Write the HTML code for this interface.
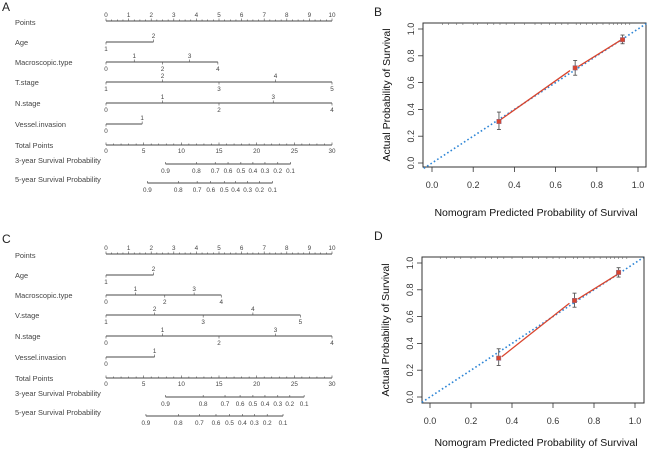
<!DOCTYPE html>
<html><head><meta charset="utf-8">
<style>
html,body{margin:0;padding:0;background:#fff;}
svg{display:block;}
text{font-family:"Liberation Sans",sans-serif;}
</style></head>
<body>
<svg id="fig" width="650" height="450" viewBox="0 0 650 450">
<text x="2" y="11" font-size="12" fill="#222">A</text>
<text x="2" y="243" font-size="12" fill="#222">C</text>
<text x="374" y="16" font-size="12" fill="#222">B</text>
<text x="374" y="240" font-size="12" fill="#222">D</text>
<g id="nomoA"></g>
<g id="nomoC"></g>
<g id="calB"></g>
<g id="calD"></g>
</svg>
<script>
// ---- Nomogram data (points scale 0..10, total points 0..30) ----
var rowNames = ["Age","Macroscopic.type","T.stage","N.stage","Vessel.invasion"];
var rowNamesC = ["Age","Macroscopic.type","V.stage","N.stage","Vessel.invasion"];
var levelsA = [["1","2"],["0","1","2","3","4"],["1","2","3","4","5"],["0","1","2","3","4"],["0","1"]];
var pointsA = [[0,2.1],[0,1.25,2.5,3.7,4.95],[0,2.5,5,7.5,10],[0,2.5,5,7.4,10],[0,1.6]];
var levelsC = [["1","2"],["0","1","2","3","4"],["1","2","3","4","5"],["0","1","2","3","4"],["0","1"]];
var pointsC = [[0,2.1],[0,1.3,2.6,3.9,5.1],[0,2.15,4.3,6.5,8.6],[0,2.5,5,7.5,10],[0,2.15]];
var probLabels = ["0.9","0.8","0.7","0.6","0.5","0.4","0.3","0.2","0.1"];
var surv3A = [7.9,12.0,14.5,16.2,17.9,19.5,21.1,22.8,24.5];
var surv5A = [5.5,9.6,12.1,13.9,15.7,17.2,18.8,20.4,22.1];
var surv3C = [7.9,12.9,15.8,17.8,19.5,21.1,22.8,24.4,26.3];
var surv5C = [5.3,9.6,12.4,14.6,16.4,18.1,19.7,21.4,23.5];
var pointTicks = [0,1,2,3,4,5,6,7,8,9,10];
var totalTicks = [0,5,10,15,20,25,30];
// ---- Calibration data ----
var calPredB = [0.325,0.695,0.925];
var calObsB = [0.31,0.71,0.92];
var calLoB = [0.25,0.655,0.89];
var calHiB = [0.38,0.765,0.955];
var calLineB = [[0.33,0.32,0.67,0.69],[0.71,0.72,0.92,0.92]];
var calPredD = [0.335,0.705,0.92];
var calObsD = [0.29,0.72,0.93];
var calLoD = [0.235,0.67,0.895];
var calHiD = [0.36,0.775,0.965];
var calLineD = [[0.35,0.3,0.68,0.7],[0.72,0.73,0.92,0.92]];
var calTicks = [0,0.2,0.4,0.6,0.8,1.0];
var rugB = [0.05,0.08,0.12,0.15,0.2,0.22,0.27,0.3,0.33,0.36,0.4,0.45,0.5,0.53,0.57,0.6,0.63,0.66,0.7,0.72,0.75,0.78,0.8,0.83,0.86,0.88,0.9,0.92,0.94,0.96];

var NS="http://www.w3.org/2000/svg";
function mk(parent,tag,attrs){var e=document.createElementNS(NS,tag);for(var k in attrs)e.setAttribute(k,attrs[k]);parent.appendChild(e);return e;}
function txt(parent,x,y,s,size,anchor,fill){var t=mk(parent,"text",{x:x,y:y,"font-size":size,"text-anchor":anchor||"start",fill:fill||"#444"});t.textContent=s;return t;}

function nomogram(gid,oy,names,levels,pts,s3,s5){
  var g=document.getElementById(gid);
  var x0=106,x1=332;
  function px(p){return x0+(x1-x0)*p/10;}
  function tx(t){return x0+(x1-x0)*t/30;}
  var col="#4a4a4a";
  var LS=7.4, TS=6.3;
  var y=oy+21;
  var lbl=txt(g,15,y+4,"Points",LS);
  
  
  var ax=mk(g,"line",{x1:x0,y1:y,x2:x1,y2:y,stroke:col,"stroke-width":0.9});
  
  
  for(var m=0;m<=40;m++){mk(g,"line",{x1:px(m/4),y1:y,x2:px(m/4),y2:y-(m%4==0?2.5:1.5),stroke:col,"stroke-width":0.6});}
  pointTicks.forEach(function(p){txt(g,px(p),y-4,String(p),TS,"middle");});
  var rowY=[42,62,82,103,124];
  names.forEach(function(nm,i){
    var ry=oy+rowY[i];
    var l=txt(g,15,ry+3,nm,LS);
    
    
    var pp=pts[i];
    var ln=mk(g,"line",{x1:px(pp[0]),y1:ry,x2:px(pp[pp.length-1]),y2:ry,stroke:col,"stroke-width":1});
    
    
    pp.forEach(function(p,j){
      var up=(j%2==1);
      mk(g,"line",{x1:px(p),y1:ry,x2:px(p),y2:up?ry-2.5:ry+2.5,stroke:col,"stroke-width":0.6});
      txt(g,px(p),up?ry-4:ry+9,levels[i][j],TS,"middle");
    });
  });
  var ty=oy+145;
  var tl=txt(g,15,ty+3,"Total Points",LS);
  
  
  var ta=mk(g,"line",{x1:x0,y1:ty,x2:x1,y2:ty,stroke:col,"stroke-width":0.9});
  
  
  for(var k=0;k<=30;k++){mk(g,"line",{x1:tx(k),y1:ty,x2:tx(k),y2:ty-(k%5==0?2.5:1.5),stroke:col,"stroke-width":0.6});}
  totalTicks.forEach(function(t){txt(g,tx(t),ty+8,String(t),TS,"middle");});
  [[s3,164,"3-year Survival Probability"],[s5,183,"5-year Survival Probability"]].forEach(function(r,i){
    var sy=oy+r[1];
    var sl=txt(g,15,sy-1,r[2],LS);
    
    
    var arr=r[0];
    var sa=mk(g,"line",{x1:tx(arr[0]),y1:sy,x2:tx(arr[arr.length-1]),y2:sy,stroke:col,"stroke-width":0.9});
    
    
    arr.forEach(function(t,j){
      mk(g,"line",{x1:tx(t),y1:sy,x2:tx(t),y2:sy-2,stroke:col,"stroke-width":0.6});
      txt(g,tx(t),sy+9,probLabels[j],TS,"middle");
    });
  });
}

function calib(gid,box,org,pred,obs,lo,hi,segs,titleY){
  var g=document.getElementById(gid);
  function X(v){return org[0]+(org[1]-org[0])*v;}
  function Y(v){return org[2]+(org[3]-org[2])*v;}
  var fr=mk(g,"rect",{x:box[0],y:box[1],width:box[2]-box[0],height:box[3]-box[1],fill:"none",stroke:"#333","stroke-width":1});
  
  
  rugB.forEach(function(r){mk(g,"line",{x1:X(r),y1:box[1],x2:X(r),y2:box[1]+2,stroke:"#666","stroke-width":0.6});});
  calTicks.forEach(function(t){
    mk(g,"line",{x1:X(t),y1:box[3],x2:X(t),y2:box[3]+5,stroke:"#333","stroke-width":0.8});
    txt(g,X(t),box[3]+21,t.toFixed(1),9,"middle","#333");
    mk(g,"line",{x1:box[0],y1:Y(t),x2:box[0]-5,y2:Y(t),stroke:"#333","stroke-width":0.8});
    var yl=txt(g,box[0]-9,Y(t),t.toFixed(1),9,"middle","#333");
    yl.setAttribute("transform","rotate(-90 "+(box[0]-9)+" "+Y(t)+")");
  });
  var yt=txt(g,box[0]-33,(box[1]+box[3])/2,"Actual Probability of Survival",10.5,"middle","#111");
  yt.setAttribute("transform","rotate(-90 "+(box[0]-33)+" "+((box[1]+box[3])/2)+")");
  
  
  var xt=txt(g,536,titleY,"Nomogram Predicted Probability of Survival",10.5,"middle","#111");
  
  
  var ref=mk(g,"line",{x1:X(-0.04),y1:Y(-0.04),x2:X(1.04),y2:Y(1.04),stroke:"#2f86d6","stroke-width":1.6,"stroke-dasharray":"1.6 2.4"});
  
  
  segs.forEach(function(s){
    var l=mk(g,"line",{x1:X(s[0]),y1:Y(s[1]),x2:X(s[2]),y2:Y(s[3]),stroke:"#d9452e","stroke-width":1.3});
    
    
  });
  pred.forEach(function(p,i){
    mk(g,"line",{x1:X(p),y1:Y(lo[i]),x2:X(p),y2:Y(hi[i]),stroke:"#555","stroke-width":0.9});
    mk(g,"line",{x1:X(p)-2,y1:Y(lo[i]),x2:X(p)+2,y2:Y(lo[i]),stroke:"#555","stroke-width":0.9});
    mk(g,"line",{x1:X(p)-2,y1:Y(hi[i]),x2:X(p)+2,y2:Y(hi[i]),stroke:"#555","stroke-width":0.9});
    var pt=mk(g,"rect",{x:X(p)-2.2,y:Y(obs[i])-2.2,width:4.4,height:4.4,fill:"#d9452e",stroke:"#8a6a8a","stroke-width":0.5});
    
    
  });
}

nomogram("nomoA",0,rowNames,levelsA,pointsA,surv3A,surv5A);
nomogram("nomoC",233,rowNamesC,levelsC,pointsC,surv3C,surv5C);
calib("calB",[423,23,646,167],[432,638,163,29],calPredB,calObsB,calLoB,calHiB,calLineB,216);
calib("calD",[422,257,644,403],[430,635,397,263],calPredD,calObsD,calLoD,calHiD,calLineD,446);
</script>
</body></html>
